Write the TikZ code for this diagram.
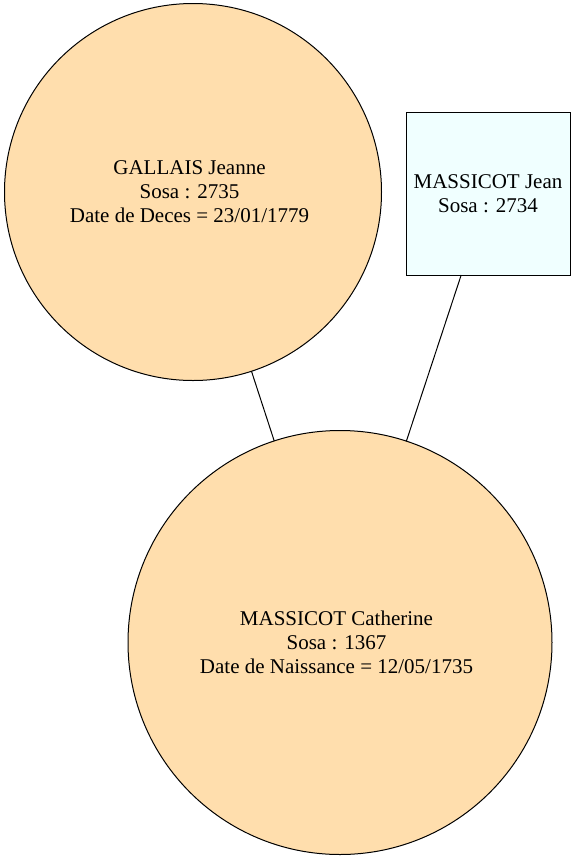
\documentclass[tikz,border=0pt]{standalone}
\usepackage{fontspec}
\setmainfont{Liberation Serif}
\definecolor{person}{HTML}{FFDEAD}
\definecolor{boxfill}{HTML}{F0FFFF}
\begin{document}
\begin{tikzpicture}[x=1pt,y=-1pt,
  every node/.style={font=\fontsize{21}{24}\selectfont, align=center, inner sep=0pt, outer sep=0pt, line width=1pt},
  every label/.style={draw=none, fill=none, xshift=-3.5pt},
  ancestor/.style={circle, draw=black, fill=person},
  malebox/.style={rectangle, draw=black, fill=boxfill, minimum width=164pt, minimum height=163pt},
  link/.style={draw=black, line width=1pt}]
\useasboundingbox (0,0) rectangle (576,860);
\node[ancestor, minimum size=377pt, label={center:{GALLAIS Jeanne\\Sosa : 2735\\Date de Deces = 23/01/1779}}] (g) at (193,192) {};
\node[malebox] (j) at (488,193.5) {MASSICOT Jean\\Sosa : 2734};
\node[ancestor, minimum size=424pt, label={center:{MASSICOT Catherine\\Sosa : 1367\\Date de Naissance = 12/05/1735}}] (c) at (340,642.5) {};
\draw[link] (g) -- (c);
\draw[link] (j) -- (c);
\end{tikzpicture}
\end{document}
